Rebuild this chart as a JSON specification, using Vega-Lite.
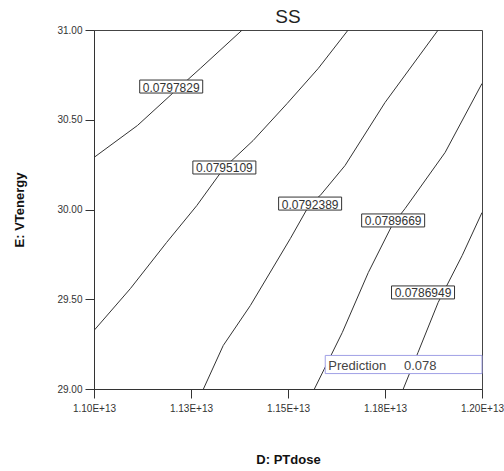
{
  "$schema": "https://vega.github.io/schema/vega-lite/v6.json",
  "autosize": "none",
  "padding": {"left": 94, "top": 30, "right": 22, "bottom": 82},
  "width": 388,
  "height": 359,
  "background": "white",
  "title": {"text": "SS", "fontSize": 19, "fontWeight": "normal", "font": "Liberation Sans", "color": "#222", "offset": -2},
  "config": {
    "view": {"stroke": "#444", "strokeWidth": 1},
    "font": "Liberation Sans",
    "axis": {"grid": false, "domainColor": "#333", "tickColor": "#333", "labelColor": "#333", "labelFont": "Liberation Sans", "labelFontSize": 10, "titleFont": "Liberation Sans", "titleFontSize": 13, "titleFontWeight": "bold", "titleColor": "#111"}
  },
  "datasets": {
    "contours": [
      {"x": 1.1382e13, "y": 31.0, "level": "0.0797829", "o": 1},
      {"x": 1.1274e13, "y": 30.786, "level": "0.0797829", "o": 2},
      {"x": 1.1202e13, "y": 30.646, "level": "0.0797829", "o": 3},
      {"x": 1.1112e13, "y": 30.468, "level": "0.0797829", "o": 4},
      {"x": 1.1e13, "y": 30.29, "level": "0.0797829", "o": 5},
      {"x": 1.1655e13, "y": 31.0, "level": "0.0795109", "o": 1},
      {"x": 1.1578e13, "y": 30.786, "level": "0.0795109", "o": 2},
      {"x": 1.1498e13, "y": 30.591, "level": "0.0795109", "o": 3},
      {"x": 1.1410e13, "y": 30.384, "level": "0.0795109", "o": 4},
      {"x": 1.1336e13, "y": 30.234, "level": "0.0795109", "o": 5},
      {"x": 1.1265e13, "y": 30.022, "level": "0.0795109", "o": 6},
      {"x": 1.1187e13, "y": 29.816, "level": "0.0795109", "o": 7},
      {"x": 1.1094e13, "y": 29.56, "level": "0.0795109", "o": 8},
      {"x": 1.1e13, "y": 29.326, "level": "0.0795109", "o": 9},
      {"x": 1.1887e13, "y": 31.0, "level": "0.0792389", "o": 1},
      {"x": 1.175e13, "y": 30.596, "level": "0.0792389", "o": 2},
      {"x": 1.1647e13, "y": 30.245, "level": "0.0792389", "o": 3},
      {"x": 1.1583e13, "y": 30.078, "level": "0.0792389", "o": 4},
      {"x": 1.1557e13, "y": 30.033, "level": "0.0792389", "o": 5},
      {"x": 1.1506e13, "y": 29.838, "level": "0.0792389", "o": 6},
      {"x": 1.1403e13, "y": 29.465, "level": "0.0792389", "o": 7},
      {"x": 1.1333e13, "y": 29.242, "level": "0.0792389", "o": 8},
      {"x": 1.1282e13, "y": 29.0, "level": "0.0792389", "o": 9},
      {"x": 1.2e13, "y": 30.702, "level": "0.0789669", "o": 1},
      {"x": 1.1905e13, "y": 30.318, "level": "0.0789669", "o": 2},
      {"x": 1.1802e13, "y": 30.006, "level": "0.0789669", "o": 3},
      {"x": 1.1768e13, "y": 29.911, "level": "0.0789669", "o": 4},
      {"x": 1.1707e13, "y": 29.649, "level": "0.0789669", "o": 5},
      {"x": 1.164e13, "y": 29.315, "level": "0.0789669", "o": 6},
      {"x": 1.1568e13, "y": 29.0, "level": "0.0789669", "o": 7},
      {"x": 1.2e13, "y": 29.983, "level": "0.0786949", "o": 1},
      {"x": 1.1949e13, "y": 29.744, "level": "0.0786949", "o": 2},
      {"x": 1.1887e13, "y": 29.482, "level": "0.0786949", "o": 3},
      {"x": 1.1835e13, "y": 29.203, "level": "0.0786949", "o": 4},
      {"x": 1.1797e13, "y": 29.0, "level": "0.0786949", "o": 5}
    ],
    "labels": [
      {"x": 1.1199e13, "y": 30.685, "label": "0.0797829"},
      {"x": 1.1336e13, "y": 30.234, "label": "0.0795109"},
      {"x": 1.1557e13, "y": 30.033, "label": "0.0792389"},
      {"x": 1.1771e13, "y": 29.939, "label": "0.0789669"},
      {"x": 1.1848e13, "y": 29.538, "label": "0.0786949"}
    ],
    "prediction": [
      {"x": 1.1596e13, "x2": 1.2e13, "y": 29.187, "y2": 29.086, "tx": 1.1604e13, "tx2": 1.1799e13, "ty": 29.136, "name": "Prediction", "value": "0.078"}
    ]
  },
  "layer": [
    {
      "data": {"name": "contours"},
      "mark": {"type": "line", "color": "#333", "strokeWidth": 1, "clip": true},
      "encoding": {
        "x": {"field": "x", "type": "quantitative", "scale": {"domain": [1.1e13, 1.2e13], "nice": false, "zero": false},
              "axis": {"values": [1.1e13, 1.125e13, 1.15e13, 1.175e13, 1.2e13], "labelExpr": "format(round(datum.value/1e11)/100, '.2f') + 'E+13'", "title": "D: PTdose", "tickSize": 9, "labelPadding": 5, "labelFlush": false, "titlePadding": 40}},
        "y": {"field": "y", "type": "quantitative", "scale": {"domain": [29, 31], "nice": false, "zero": false},
              "axis": {"values": [29, 29.5, 30, 30.5, 31], "format": ".2f", "title": "E: VTenergy", "tickSize": 9, "labelPadding": 3, "labelFlush": false, "titlePadding": 30}},
        "detail": {"field": "level"},
        "order": {"field": "o", "type": "quantitative"}
      }
    },
    {
      "data": {"name": "labels"},
      "mark": {"type": "rect", "width": 63, "height": 13, "fill": "white", "stroke": "#333", "strokeWidth": 1},
      "encoding": {
        "x": {"field": "x", "type": "quantitative"},
        "y": {"field": "y", "type": "quantitative"}
      }
    },
    {
      "data": {"name": "labels"},
      "mark": {"type": "text", "fontSize": 12, "color": "#333", "font": "Liberation Sans", "baseline": "middle", "align": "center", "dy": 1},
      "encoding": {
        "x": {"field": "x", "type": "quantitative"},
        "y": {"field": "y", "type": "quantitative"},
        "text": {"field": "label"}
      }
    },
    {
      "data": {"name": "prediction"},
      "mark": {"type": "rect", "fill": "white", "stroke": "#a0a0e6", "strokeWidth": 1},
      "encoding": {
        "x": {"field": "x", "type": "quantitative"},
        "x2": {"field": "x2"},
        "y": {"field": "y", "type": "quantitative"},
        "y2": {"field": "y2"}
      }
    },
    {
      "data": {"name": "prediction"},
      "mark": {"type": "text", "fontSize": 13, "color": "#444", "font": "Liberation Sans", "baseline": "middle", "align": "left", "dy": 1},
      "encoding": {
        "x": {"field": "tx", "type": "quantitative"},
        "y": {"field": "ty", "type": "quantitative"},
        "text": {"field": "name"}
      }
    },
    {
      "data": {"name": "prediction"},
      "mark": {"type": "text", "fontSize": 13, "color": "#444", "font": "Liberation Sans", "baseline": "middle", "align": "left", "dy": 1},
      "encoding": {
        "x": {"field": "tx2", "type": "quantitative"},
        "y": {"field": "ty", "type": "quantitative"},
        "text": {"field": "value"}
      }
    }
  ]
}
